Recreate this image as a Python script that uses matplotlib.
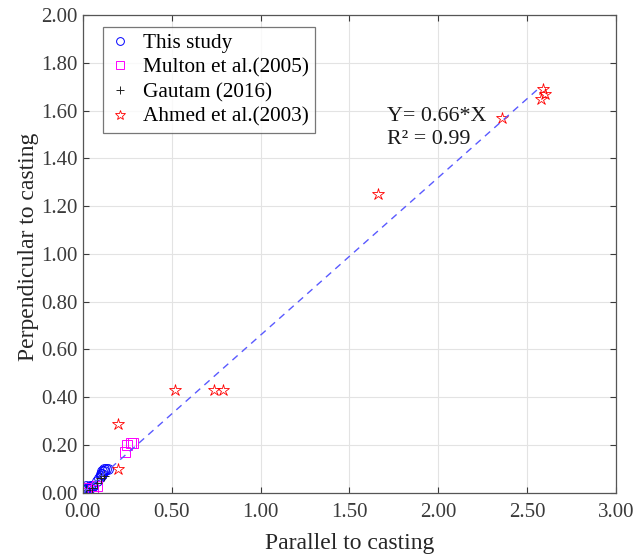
import numpy as np
import matplotlib.pyplot as plt

plt.rcParams["font.family"] = ["Liberation Serif", "DejaVu Serif"]

# measured strains, parallel (x) vs perpendicular (y) to casting
this_x = [0.01, 0.02, 0.03, 0.04, 0.05, 0.06, 0.08, 0.09, 0.10, 0.10, 0.11, 0.11, 0.12, 0.12, 0.13, 0.14, 0.02, 0.04]
this_y = [0.01, 0.02, 0.02, 0.03, 0.03, 0.03, 0.05, 0.06, 0.07, 0.08, 0.08, 0.09, 0.09, 0.10, 0.10, 0.10, 0.03, 0.02]

multon_x = [0.00, 0.02, 0.06, 0.08, 0.24, 0.25, 0.27, 0.28]
multon_y = [0.00, 0.02, 0.01, 0.03, 0.17, 0.20, 0.21, 0.21]

gautam_x = [0.02, 0.05, 0.08, 0.10, 0.12]
gautam_y = [0.01, 0.02, 0.04, 0.06, 0.07]

ahmed_x = [0.20, 0.20, 0.52, 0.74, 0.79, 1.66, 2.36, 2.58, 2.59, 2.60]
ahmed_y = [0.29, 0.10, 0.43, 0.43, 0.43, 1.25, 1.57, 1.65, 1.69, 1.67]

slope = 0.66
fit_x = [0.0, 2.57]

fig = plt.figure(figsize=(6.37, 5.6), dpi=100)
ax = fig.add_axes([0.130, 0.120, 0.837, 0.853])

ax.plot(this_x, this_y, "o", ms=7, mfc="none", mec="blue", mew=0.7, label="This study")
ax.plot(multon_x, multon_y, "s", ms=7, mfc="none", mec="magenta", mew=0.7, label="Multon et al.(2005)")
ax.plot(gautam_x, gautam_y, "+", ms=7, color="#222222", mew=0.7, label="Gautam (2016)")
ax.plot(ahmed_x, ahmed_y, "*", ms=9, mfc="none", mec="red", mew=0.6, label="Ahmed et al.(2003)")
ax.plot(fit_x, [slope * v for v in fit_x], "--", color="#5a5aff", lw=1.0, dashes=(5, 4))

ax.text(1.71, 1.44, "Y= 0.66*X\nR\u00b2 = 0.99", fontsize=15.8, linespacing=1.25, va="bottom",
        color="#1a1a1a")

ax.set_xlim(0, 3)
ax.set_ylim(0, 2)
ax.set_xticks(np.arange(0, 3.01, 0.5))
ax.set_yticks(np.arange(0, 2.01, 0.2))
ax.set_xticklabels([f"{v:.2f}" for v in np.arange(0, 3.01, 0.5)])
ax.set_yticklabels([f"{v:.2f}" for v in np.arange(0, 2.01, 0.2)])
ax.tick_params(direction="in", top=True, right=True, labelsize=15, colors="#3a3a3a",
               length=4, width=0.8)
ax.tick_params(axis="x", pad=7)
ax.tick_params(axis="y", pad=4)
ax.grid(True, color="#e3e3e3", lw=0.8)
ax.set_axisbelow(True)
for s in ax.spines.values():
    s.set_color("#555555")
    s.set_linewidth(0.9)

ax.set_xlabel("Parallel to casting", fontsize=17, color="#262626", labelpad=8)
ax.set_ylabel("Perpendicular to casting", fontsize=17, color="#262626", labelpad=0)
ax.yaxis.set_label_coords(-0.083, 0.515)

leg = ax.legend(loc="upper left", bbox_to_anchor=(0.037, 0.975), fontsize=15.3, frameon=True,
                fancybox=False, edgecolor="#555555", handlelength=1.0, handletextpad=0.6,
                borderpad=0.3, labelspacing=0.22, markerscale=0.8, borderaxespad=0)
leg.get_frame().set_linewidth(0.9)

fig.savefig("out.png", dpi=100)
